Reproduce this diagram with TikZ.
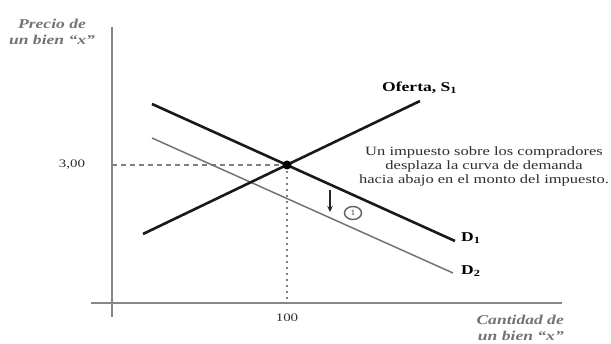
\documentclass[tikz,border=0pt]{standalone}
\usepackage{fontspec}
\setmainfont{Liberation Serif}[FakeStretch=1.3]
\usetikzlibrary{arrows.meta,shapes.geometric}
\definecolor{axisgray}{RGB}{135,135,135}
\definecolor{txtgray}{RGB}{45,45,45}
\tikzset{
  axisline/.style={draw=axisgray, line width=2pt},
  thickcurve/.style={draw=black!90, line width=2.6pt},
  thincurve/.style={draw=black!55, line width=1.5pt},
  guide/.style={draw=black!50, line width=1.4pt, dash pattern=on 5pt off 4pt},
  guidedot/.style={draw=black!50, line width=1.8pt, dash pattern=on 2pt off 4pt},
  axlabel/.style={font=\fontsize{13.5}{16}\selectfont\itshape\bfseries, text=black!55, align=center, inner sep=0pt},
  curvelabel/.style={font=\fontsize{13.5}{15}\selectfont\bfseries, text=black, inner sep=0pt, anchor=west},
  ticklabel/.style={font=\fontsize{11.5}{13}\selectfont, text=txtgray, inner sep=0pt}
}
\begin{document}
\begin{tikzpicture}[x=1pt,y=-1pt]
\useasboundingbox (0,0) rectangle (611,344);
% axes
\coordinate (ytop) at (112,27);
\coordinate (ybot) at (112,317);
\coordinate (xl) at (91,303);
\coordinate (xr) at (562,303);
\draw[axisline] (ytop) -- (ybot);
\draw[axisline] (xl) -- (xr);
% curves
\coordinate (E) at (287,165);
\coordinate (d1s) at (152,104);
\coordinate (d1e) at (455,241);
\coordinate (d2s) at (152,138);
\coordinate (d2e) at (453,273);
\coordinate (ss) at (143,234);
\coordinate (se) at (420,101);
\coordinate (yE) at (112,165);
\coordinate (xE) at (287,303);
\draw[guide] (yE) -- (E);
\draw[guidedot] (E) -- (xE);
\draw[thincurve] (d2s) -- (d2e);
\draw[thickcurve] (d1s) -- (d1e);
\draw[thickcurve] (ss) -- (se);
\fill[black] (E) circle (4.5pt);
% labels
\node[axlabel] (ylab) at (52,32) {Precio de\\un bien “x”};
\node[axlabel, align=right, anchor=east] (xlab) at (564,328) {Cantidad de\\un bien “x”};
\node[ticklabel] (t300) at (72,165) {3,00};
\node[ticklabel] (t100) at (287,318) {100};
\node[curvelabel] (slab) at (382,88) {Oferta, S\textsubscript{1}};
\node[curvelabel] (d1lab) at (461,238) {D\textsubscript{1}};
\node[curvelabel] (d2lab) at (461,271) {D\textsubscript{2}};
\node[font=\fontsize{12.7}{14}\selectfont, text=txtgray, align=center, inner sep=0pt] (note) at (484,166)
  {Un impuesto sobre los compradores\\desplaza la curva de demanda\\hacia abajo en el monto del impuesto.};
% arrow and circled marker
\coordinate (aS) at (330,190);
\coordinate (aE) at (330,212);
\draw[black!85, line width=1.4pt, -{Stealth[length=6pt,width=5.5pt]}] (aS) -- (aE);
\node[draw=black!60, line width=1.5pt, ellipse, inner sep=0pt, minimum width=17pt, minimum height=13pt,
      font=\fontsize{8}{8}\selectfont, text=black!70] (mark) at (353,213) {1};
\end{tikzpicture}
\end{document}
